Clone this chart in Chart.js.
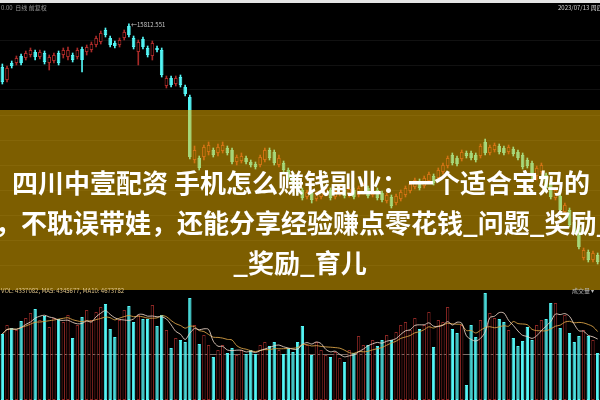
<!DOCTYPE html>
<html>
<head>
<meta charset="utf-8">
<script src="https://cdn.jsdelivr.net/npm/chart.js@4.4.1/dist/chart.umd.min.js"></script>
<style>
    html, body { margin: 0; padding: 0; background: #000; }
    #wrap { position: relative; width: 600px; height: 400px; overflow: hidden; background: #000;
            font-family: "Noto Sans CJK SC", "Noto Sans", sans-serif; }
    #priceChart { position: absolute; left: 0; top: 0; }
    #volChart { position: absolute; left: 0; top: 290px; }
    .topStrip { position: absolute; left: 0; top: 0; width: 600px; height: 3px; background: #e4e4e4; }
    .tiny { position: absolute; font-size: 6px; line-height: 7px; white-space: nowrap; }
    .banner { position: absolute; left: 0; top: 110px; width: 600px; height: 180px;
              background: rgba(250, 188, 0, 0.5); overflow: hidden; }
    .line { position: absolute; white-space: nowrap; color: #fff; font-weight: bold;
            font-size: 26px; line-height: 40px; height: 40px; }
</style>
</head>
<body>
<div id="wrap">
    <canvas id="priceChart" width="600" height="290"></canvas>
    <canvas id="volChart" width="600" height="110"></canvas>
    <div class="topStrip"></div>
    <div class="tiny" style="left:1px; top:4px; color:#9a9a9a;">0.00 &nbsp;日线 前复权</div>
    <div class="tiny" style="left:558px; top:4px; color:#d8d8d8;">2023/07/13 周四</div>
    <div class="tiny" style="left:131px; top:21px; color:#c8c8c8;">&larr;15812.551</div>
    <div class="banner">
        <div class="line" style="left:12px; top:52px;">四川中壹配资 手机怎么赚钱副业：一个适合宝妈的</div>
        <div class="line" style="left:-5px; top:92px;">，不耽误带娃，还能分享经验赚点零花钱_问题_奖励_</div>
        <div class="line" style="left:0; width:600px; text-align:center; top:132px;">_奖励_育儿</div>
    </div>
    <div class="tiny" style="left:1px; top:287px; color:#e0c58a;">VOL: 4337082, MA5: 4345677, MA10: 4673782</div>
    <div class="tiny" style="left:572px; top:287px; color:#bbbbbb;">成交量 ▾</div>
</div>

<script>
// K-line data (one entry per trading day)
const openPrices = [
    15380, 15250, 15420, 15420, 15490, 15470, 15500, 15530, 15480, 15520,
    15420, 15440, 15520, 15500, 15480, 15500, 15480, 15560, 15530, 15550,
    15600, 15630, 15750, 15670, 15620, 15600, 15670, 15790, 15670, 15530,
    15660, 15570, 15490, 15570, 15550, 15190, 15270, 15210, 15280, 15180,
    15080, 14450, 14470, 14480, 14530, 14550, 14520, 14540, 14570, 14550,
    14430, 14440, 14470, 14430, 14410, 14400, 14450, 14550, 14530, 14400,
    14420, 14350, 14290, 14220, 14150, 14080, 14120, 14060, 14080, 14110,
    14150, 14080, 14110, 14150, 14100, 14150, 14100, 14130, 14170, 14100,
    14150, 14120, 14040, 14080, 14020, 14060, 14100, 14140, 14180, 14240,
    14190, 14240, 14290, 14270, 14330, 14390, 14500, 14470, 14460, 14520,
    14520, 14500, 14490, 14630, 14520, 14550, 14590, 14570, 14530, 14560,
    14530, 14500, 14450, 14420, 14290, 14330, 14300, 14220, 14070, 14090,
    13930, 13950, 13830, 13780, 13470, 13530, 13450, 13500
];
const highPrices = [
    15410, 15390, 15440, 15490, 15510, 15540, 15570, 15550, 15550, 15540,
    15500, 15520, 15540, 15570, 15580, 15520, 15570, 15580, 15600, 15630,
    15690, 15740, 15770, 15690, 15640, 15670, 15750, 15812.551, 15690, 15650,
    15680, 15590, 15640, 15590, 15570, 15290, 15290, 15290, 15300, 15200,
    15100, 14590, 14490, 14600, 14630, 14570, 14610, 14630, 14590, 14570,
    14500, 14520, 14490, 14450, 14430, 14500, 14570, 14570, 14550, 14500,
    14440, 14370, 14310, 14240, 14170, 14150, 14140, 14130, 14160, 14190,
    14170, 14160, 14190, 14170, 14180, 14170, 14190, 14220, 14190, 14180,
    14170, 14140, 14120, 14100, 14110, 14150, 14190, 14230, 14270, 14260,
    14290, 14330, 14310, 14370, 14420, 14490, 14520, 14490, 14550, 14540,
    14540, 14520, 14610, 14660, 14600, 14620, 14610, 14590, 14600, 14580,
    14550, 14520, 14470, 14440, 14390, 14420, 14320, 14240, 14170, 14110,
    14020, 13970, 13850, 13800, 13570, 13550, 13540, 13520
];
const lowPrices = [
    15210, 15230, 15370, 15400, 15400, 15450, 15480, 15450, 15460, 15410,
    15350, 15420, 15400, 15470, 15450, 15430, 15460, 15330, 15500, 15530,
    15580, 15610, 15680, 15580, 15570, 15580, 15650, 15680, 15560, 15400,
    15560, 15480, 15450, 15530, 15280, 15170, 15180, 15190, 15180, 15090,
    14460, 14420, 14350, 14450, 14500, 14480, 14490, 14520, 14500, 14410,
    14400, 14420, 14410, 14380, 14360, 14380, 14430, 14450, 14400, 14380,
    14330, 14250, 14190, 14110, 14050, 14060, 14020, 14040, 14060, 14090,
    14050, 14060, 14090, 14070, 14080, 14060, 14080, 14110, 14070, 14080,
    14050, 14030, 14020, 13970, 14000, 14040, 14080, 14120, 14160, 14150,
    14170, 14220, 14200, 14250, 14310, 14370, 14400, 14390, 14440, 14470,
    14450, 14430, 14470, 14500, 14500, 14530, 14510, 14500, 14510, 14490,
    14450, 14360, 14370, 14230, 14250, 14310, 14150, 14060, 14050, 13930,
    13910, 13780, 13710, 13560, 13450, 13430, 13430, 13410
];
const closePrices = [
    15230, 15370, 15390, 15470, 15420, 15520, 15550, 15480, 15530, 15430,
    15480, 15500, 15420, 15550, 15550, 15450, 15550, 15450, 15580, 15610,
    15670, 15720, 15700, 15600, 15590, 15650, 15730, 15700, 15580, 15630,
    15580, 15500, 15620, 15550, 15300, 15270, 15200, 15270, 15200, 15110,
    14480, 14550, 14370, 14580, 14600, 14500, 14580, 14600, 14520, 14430,
    14480, 14490, 14430, 14400, 14380, 14480, 14550, 14470, 14420, 14470,
    14350, 14270, 14210, 14130, 14070, 14130, 14050, 14110, 14140, 14170,
    14070, 14140, 14170, 14090, 14160, 14080, 14170, 14200, 14090, 14160,
    14070, 14050, 14100, 13990, 14090, 14130, 14170, 14210, 14250, 14170,
    14270, 14310, 14220, 14350, 14400, 14470, 14420, 14410, 14530, 14490,
    14470, 14450, 14590, 14520, 14580, 14600, 14530, 14520, 14580, 14510,
    14470, 14380, 14390, 14300, 14370, 14400, 14170, 14080, 14150, 13950,
    14000, 13800, 13730, 13580, 13550, 13450, 13520, 13430
];
// Daily volume, in units of 10,000 lots
const volumes = [
    660, 750, 720, 700, 790, 820, 870, 910, 800, 840,
    730, 820, 810, 780, 850, 620, 750, 830, 900, 800,
    880, 930, 960, 710, 630, 800, 900, 940, 780, 850,
    810, 810, 950, 740, 850, 700, 520, 620, 600, 580,
    1020, 750, 560, 650, 550, 430, 500, 550, 470, 520,
    450, 500, 460, 500, 460, 550, 580, 540, 580, 500,
    460, 520, 480, 580, 740, 550, 450, 580, 500, 450,
    430, 480, 420, 380, 500, 470, 640, 550, 550, 600,
    540, 600, 650, 600, 680, 750, 780, 700, 820, 710,
    750, 880, 530, 800, 780, 930, 710, 670, 750, 150,
    750, 630, 800, 1070, 870, 820, 810, 780, 700, 620,
    540, 590, 730, 600, 750, 800, 810, 970, 970, 720,
    850, 670, 580, 640, 700, 640, 600, 470
];
// Price levels of the faint dotted guide lines, and the volume guide
const priceGridTicks = [15650, 15400, 15150, 14900, 14650, 14400, 14150, 13900, 13650, 13400];
const volGuideTicks = [450];

document.addEventListener('DOMContentLoaded', () => {
    const UP_RED = '#a82a28';
    const DOWN_CYAN = '#54f6f6';
    const labels = openPrices.map((_, i) => i + 1);
    const isUp = openPrices.map((o, i) => closePrices[i] >= o);

    // Volume moving averages, taken over whatever days are available
    const movingAvg = (arr, n) => arr.map((_, i) => {
        const from = Math.max(0, i - n + 1);
        const part = arr.slice(from, i + 1);
        return part.reduce((a, b) => a + b, 0) / part.length;
    });
    const ma5 = movingAvg(volumes, 5);
    const ma10 = movingAvg(volumes, 10);

    const hiddenX = { display: false, offset: true, grid: { display: false } };

    // Price (candlestick) panel
    new Chart(document.getElementById('priceChart').getContext('2d'), {
        type: 'bar',
        data: {
            labels: labels,
            datasets: [
                {
                    // candle bodies
                    data: openPrices.map((o, i) => [o, closePrices[i]]),
                    backgroundColor: isUp.map(u => u ? '#000' : DOWN_CYAN),
                    borderColor: isUp.map(u => u ? UP_RED : DOWN_CYAN),
                    borderWidth: 1,
                    borderSkipped: false,
                    barPercentage: 0.78,
                    categoryPercentage: 1,
                    grouped: false,
                    order: 1
                },
                {
                    // wicks
                    data: lowPrices.map((l, i) => [l, highPrices[i]]),
                    backgroundColor: isUp.map(u => u ? UP_RED : DOWN_CYAN),
                    borderWidth: 0,
                    barThickness: 1,
                    grouped: false,
                    order: 2
                }
            ]
        },
        options: {
            responsive: false,
            animation: false,
            events: [],
            layout: { padding: 0 },
            plugins: { legend: { display: false }, tooltip: { enabled: false } },
            scales: {
                x: hiddenX,
                y: {
                    min: 13150,
                    max: 16050,
                    ticks: { display: false },
                    afterBuildTicks: axis => { axis.ticks = priceGridTicks.map(v => ({ value: v })); },
                    grid: { color: 'rgba(140,140,140,0.12)', drawTicks: false },
                    border: { display: false }
                }
            }
        }
    });

    // Volume panel
    new Chart(document.getElementById('volChart').getContext('2d'), {
        type: 'bar',
        data: {
            labels: labels,
            datasets: [
                {
                    type: 'line',
                    data: ma5,
                    borderColor: 'rgba(236,214,200,0.85)',
                    borderWidth: 1,
                    pointRadius: 0,
                    tension: 0.3,
                    order: 0
                },
                {
                    type: 'line',
                    data: ma10,
                    borderColor: 'rgba(214,160,70,0.9)',
                    borderWidth: 1,
                    pointRadius: 0,
                    tension: 0.3,
                    order: 0
                },
                {
                    data: volumes,
                    backgroundColor: isUp.map(u => u ? '#000' : DOWN_CYAN),
                    borderColor: isUp.map(u => u ? '#8a2724' : DOWN_CYAN),
                    borderWidth: 1,
                    borderSkipped: false,
                    barPercentage: 0.72,
                    categoryPercentage: 1,
                    order: 1
                }
            ]
        },
        options: {
            responsive: false,
            animation: false,
            events: [],
            layout: { padding: 0 },
            plugins: { legend: { display: false }, tooltip: { enabled: false } },
            scales: {
                x: hiddenX,
                y: {
                    min: 0,
                    max: 1100,
                    ticks: { display: false },
                    afterBuildTicks: axis => { axis.ticks = volGuideTicks.map(v => ({ value: v })); },
                    grid: { color: 'rgba(220,200,190,0.55)', drawTicks: false },
                    border: { display: false }
                }
            }
        }
    });
});
</script>
</body>
</html>
